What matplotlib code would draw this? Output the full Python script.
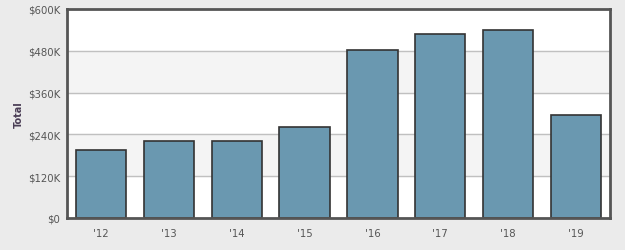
import matplotlib.pyplot as plt
import numpy as np

# data
years = ["'12", "'13", "'14", "'15", "'16", "'17", "'18", "'19"]
totals = [194, 220, 220, 260, 483, 527, 539, 297]  # thousands of dollars
yticks = [0, 120, 240, 360, 480, 600]
ytick_labels = ["$0", "$120K", "$240K", "$360K", "$480K", "$600K"]

fig = plt.figure(figsize=(6.25, 2.51), dpi=100, facecolor="#ebebeb")
ax = fig.add_axes([67 / 625, 1 - 219 / 251, 543 / 625, 209 / 251])
ax.set_facecolor("white")

# alternating bands
for i in range(len(yticks) - 1):
    if i % 2 == 1:
        ax.axhspan(yticks[i], yticks[i + 1], color="#f4f4f4", zorder=0)
for y in yticks[1:-1]:
    ax.axhline(y, color="#c0c0c0", lw=1, zorder=1)

x = np.arange(len(years))
ax.bar(x, totals, width=0.74, color="#6a98b0", edgecolor="#333333", linewidth=1.2, zorder=2)

ax.set_xlim(-0.5, len(years) - 0.5)
ax.set_ylim(0, 600)
ax.set_xticks(x)
ax.set_xticklabels(years)
ax.set_yticks(yticks)
ax.set_yticklabels(ytick_labels)
ax.tick_params(length=0, labelsize=7.3, colors="#555555", pad=5)
ax.tick_params(axis="x", pad=7)
for s in ax.spines.values():
    s.set_color("#555555")
    s.set_linewidth(2)
ax.set_ylabel("Total", fontsize=7, fontweight="bold", color="#4a3d55", labelpad=3)

fig.savefig("out.png", dpi=100, facecolor=fig.get_facecolor())
